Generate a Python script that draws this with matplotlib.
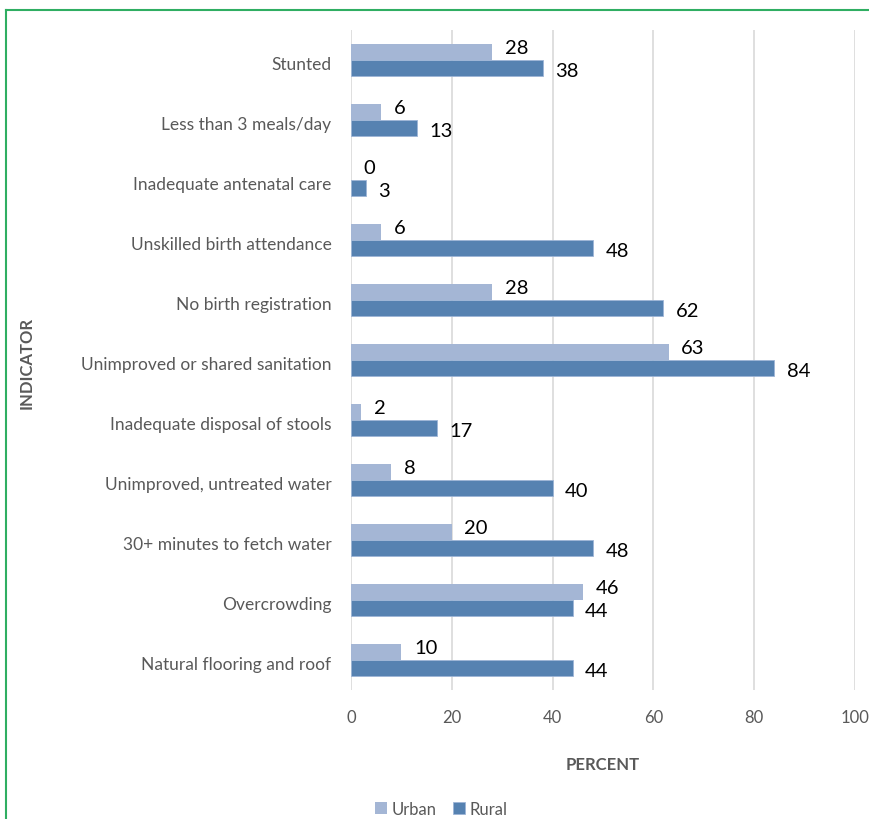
import matplotlib
matplotlib.use('Agg')
import matplotlib.pyplot as plt
import matplotlib.transforms as mtransforms
from matplotlib.lines import Line2D
import numpy as np

plt.rcParams['font.family'] = ['Lato', 'DejaVu Sans']

indicators = [
    'Stunted',
    'Less than 3 meals/day',
    'Inadequate antenatal care',
    'Unskilled birth attendance',
    'No birth registration',
    'Unimproved or shared sanitation',
    'Inadequate disposal of stools',
    'Unimproved, untreated water',
    '30+ minutes to fetch water',
    'Overcrowding',
    'Natural flooring and roof',
]
urban = [28, 6, 0, 6, 28, 63, 2, 8, 20, 46, 10]
rural = [38, 13, 3, 48, 62, 84, 17, 40, 48, 44, 44]
xticks = [0, 20, 40, 60, 80, 100]

URBAN_COLOR = '#a4b6d5'
RURAL_COLOR = '#5682b1'
TEXT_GRAY = '#595959'

fig = plt.figure(figsize=(8.69, 8.2), dpi=100)
ax = fig.add_axes([0.4039, 0.1573, 0.58, 0.8049])

y = np.arange(len(indicators))
h = 0.27
ax.barh(y - h / 2, urban, height=h, color=URBAN_COLOR, label='Urban', zorder=3)
ax.barh(y + h / 2, rural, height=h, color=RURAL_COLOR, edgecolor='#9db5d6',
        linewidth=0.6, label='Rural', zorder=3)

for i in range(len(indicators)):
    ax.annotate(str(urban[i]), (urban[i], y[i] - h / 2), xytext=(9, 3),
                textcoords='offset points', ha='left', va='center',
                fontsize=14.5, color='black')
    ax.annotate(str(rural[i]), (rural[i], y[i] + h / 2), xytext=(9, -2),
                textcoords='offset points', ha='left', va='center',
                fontsize=14.5, color='black')

ax.set_xlim(0, 100)
ax.set_ylim(len(indicators) - 0.5, -0.5)
ax.set_xticks(xticks)
ax.set_yticks(y)
ax.set_yticklabels(indicators)
ax.tick_params(axis='both', length=0, colors=TEXT_GRAY, labelsize=12.5)
ax.tick_params(axis='x', pad=14, labelsize=12)
ax.tick_params(axis='y', pad=14)
ax.grid(axis='x', color='#d9d9d9', linewidth=1.2, zorder=0)
for s in ax.spines.values():
    s.set_visible(False)

# nudge category labels down a touch
shift = mtransforms.ScaledTranslation(0, -2 / 72, fig.dpi_scale_trans)
for lbl in ax.get_yticklabels():
    lbl.set_transform(lbl.get_transform() + shift)

ax.set_xlabel('PERCENT', fontsize=12, fontweight='bold', color=TEXT_GRAY, labelpad=22)
fig.text(0.031, 0.5573, 'INDICATOR', rotation=90, ha='center', va='center',
         fontsize=12, fontweight='bold', color=TEXT_GRAY)

handles, labels = ax.get_legend_handles_labels()
fig.legend(handles, labels, loc='center', bbox_to_anchor=(0.508, 0.012), ncol=2,
           frameon=False, fontsize=12, handlelength=0.7, handleheight=0.7,
           handletextpad=0.3, columnspacing=1.0, labelcolor=TEXT_GRAY)

# green frame along the top and left edges
fig.add_artist(Line2D([0.0065, 0.0065], [0, 0.9866], color='#2fae62', linewidth=1.5,
                      transform=fig.transFigure))
fig.add_artist(Line2D([0.0065, 1.0], [0.9866, 0.9866], color='#2fae62', linewidth=1.5,
                      transform=fig.transFigure))

fig.savefig('out.png', dpi=100)
